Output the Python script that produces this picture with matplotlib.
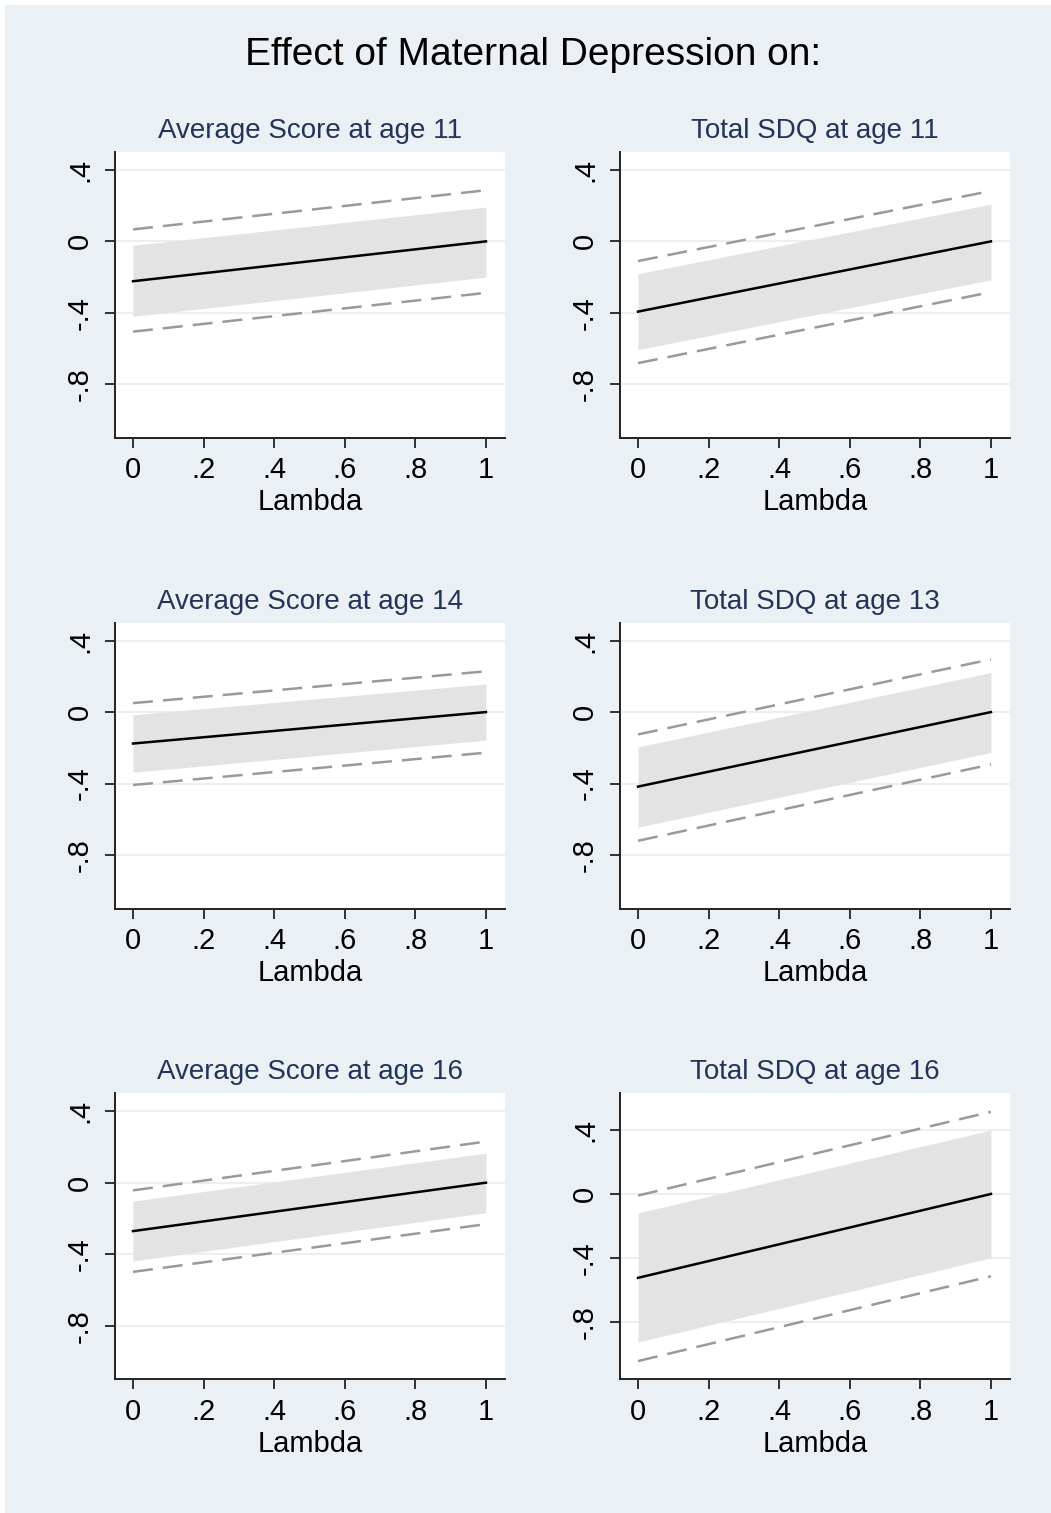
import matplotlib
matplotlib.use("Agg")
import matplotlib.pyplot as plt
from matplotlib.patches import Rectangle

# Effect of maternal depression on outcomes, by lambda
lam = [0, 1]

titles = ["Average Score at age 11", "Total SDQ at age 11",
          "Average Score at age 14", "Total SDQ at age 13",
          "Average Score at age 16", "Total SDQ at age 16"]

est = [[-0.223, 0.0], [-0.393, 0.0], [-0.176, 0.0],
       [-0.417, 0.0], [-0.271, 0.0], [-0.525, 0.0]]
band_hi = [[-0.022, 0.192], [-0.181, 0.208], [-0.015, 0.157],
           [-0.195, 0.221], [-0.103, 0.165], [-0.119, 0.400]]
band_lo = [[-0.419, -0.200], [-0.606, -0.215], [-0.337, -0.157],
           [-0.644, -0.226], [-0.438, -0.168], [-0.927, -0.400]]
dash_hi = [[0.067, 0.286], [-0.110, 0.282], [0.050, 0.228],
           [-0.125, 0.295], [-0.043, 0.230], [-0.010, 0.514]]
dash_lo = [[-0.505, -0.288], [-0.681, -0.284], [-0.408, -0.227],
           [-0.720, -0.293], [-0.499, -0.232], [-1.046, -0.515]]

ylims = [(-1.10, 0.50)] * 5 + [(-1.16, 0.63)]
yticks = [-0.8, -0.4, 0, 0.4]
ytick_labels = ["-.8", "-.4", "0", ".4"]
xticks = [0, 0.2, 0.4, 0.6, 0.8, 1]
xtick_labels = ["0", ".2", ".4", ".6", ".8", "1"]

plt.rcParams['font.family'] = ['Liberation Sans', 'DejaVu Sans']
plt.rcParams['lines.scale_dashes'] = False

BG = '#EAF0F3'
W, H = 1051, 1513
fig = plt.figure(figsize=(W / 100, H / 100), dpi=100)
fig.patch.set_facecolor('white')
fig.add_artist(Rectangle((5 / W, 0), 1, (H - 5) / H, transform=fig.transFigure,
                         facecolor=BG, edgecolor='none', zorder=-10))

fig.text(533 / W, 1 - 55 / H, "Effect of Maternal Depression on:",
         ha='center', va='center', fontsize=28, color='black')

col_x = [115, 620]
row_top = [152, 622.7, 1093.3]
ax_w, ax_h = 390, 286

for i in range(6):
    r, c = divmod(i, 2)
    ax = fig.add_axes([col_x[c] / W, 1 - (row_top[r] + ax_h) / H, ax_w / W, ax_h / H])
    ax.set_facecolor('white')

    ax.fill_between(lam, band_lo[i], band_hi[i], color='#E3E3E3', lw=0, zorder=2)
    ax.plot(lam, dash_hi[i], color='#9A9A9A', lw=1.8, dashes=(14.4, 7.2), zorder=3)
    ax.plot(lam, dash_lo[i], color='#9A9A9A', lw=1.8, dashes=(14.4, 7.2), zorder=3)
    ax.plot(lam, est[i], color='black', lw=1.8, zorder=4)

    ax.set_xlim(-0.051, 1.054)
    ax.set_ylim(*ylims[i])
    ax.set_xticks(xticks)
    ax.set_xticklabels(xtick_labels)
    ax.set_yticks(yticks)
    ax.set_yticklabels(ytick_labels, rotation=90, va='center')
    ax.yaxis.grid(True, color='#E8F0F2', lw=1.5, zorder=0)
    ax.set_axisbelow(True)

    for s in ['top', 'right']:
        ax.spines[s].set_visible(False)
    for s in ['left', 'bottom']:
        ax.spines[s].set_color('#222222')
        ax.spines[s].set_linewidth(1.4)
    ax.tick_params(axis='both', length=7.2, width=1.3, color='#222222',
                   labelsize=21, labelcolor='black')
    ax.tick_params(axis='x', pad=6)
    ax.tick_params(axis='y', pad=8)

    ax.set_xlabel("Lambda", fontsize=21, labelpad=3)
    ax.text(0.5, 1 + 21 / ax_h, titles[i], transform=ax.transAxes,
            ha='center', va='center', fontsize=20, color='#24335A')

fig.savefig("out.png", dpi=100, facecolor=fig.get_facecolor())
